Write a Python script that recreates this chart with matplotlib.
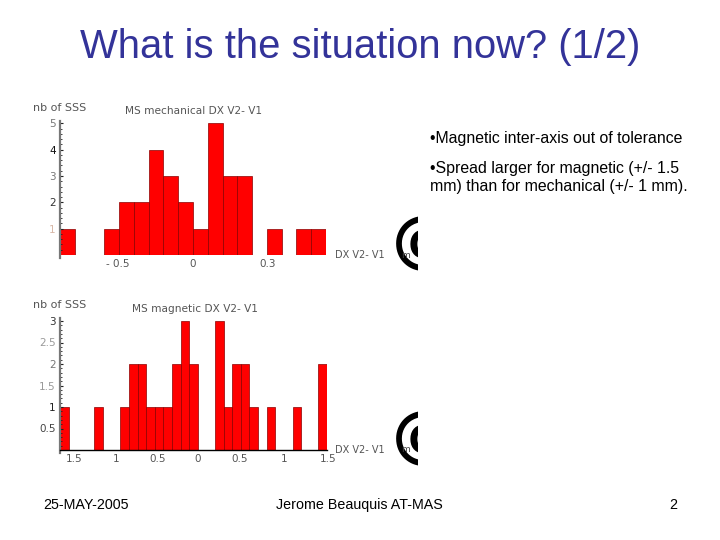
import numpy as np
import matplotlib
matplotlib.use("Agg")
import matplotlib.pyplot as plt
from matplotlib.patches import Rectangle
from matplotlib.transforms import ScaledTranslation

W, H = 720, 540

# comptes par classe
mech_counts = [1, 0, 0, 1, 2, 2, 4, 3, 2, 1, 5, 3, 3, 0, 1, 0, 1, 1]
mag_counts = [1, 0, 0, 0, 1, 0, 0, 1, 2, 2, 1, 1, 1, 2, 3, 2, 0, 0, 3, 1,
              2, 2, 1, 0, 1, 0, 0, 1, 0, 0, 2]
mech_range = (-0.887, 0.887)
mag_range = (-1.5, 1.5)

mech_xticks = [-0.5, 0, 0.5]
mech_xlabels = ["- 0.5", "0", "0.3"]
mech_yticks = [1, 2, 3, 4, 5]
mech_ylabels = ["1", "2", "3", "4", "5"]
mech_ycolors = ["#d8b8a8", "#333333", "#777777", "#111111", "#777777"]
mag_xticks = [-1.5, -1, -0.5, 0, 0.5, 1, 1.5]
mag_xlabels = ["1.5", "1", "0.5", "0", "0.5", "1", "1.5"]
mag_yticks = [0.5, 1, 1.5, 2, 2.5, 3]
mag_ylabels = ["0.5", "1", "1.5", "2", "2.5", "3"]
mag_ycolors = ["#444444", "#222222", "#999999", "#777777", "#999999", "#333333"]

TITLE = "What is the situation now? (1/2)"
BLUE = "#333399"
SANS = "Liberation Sans"

plt.rcParams["font.family"] = [SANS, "DejaVu Sans"]


def px_axes(fig, x0, x1, y_top, y_bottom):
    return fig.add_axes([x0 / W, 1 - y_bottom / H, (x1 - x0) / W, (y_bottom - y_top) / H])


def draw_hist(ax, counts, x_range, ymax, xticks, xlabels, yticks, ylabels, ycolors, minor, base_line):
    edges = np.linspace(x_range[0], x_range[1], len(counts) + 1)
    width = edges[1] - edges[0]
    ax.bar(edges[:-1], counts, width=width, align="edge", color="#ff0000",
           edgecolor="#8a0000", linewidth=0.5)
    ax.set_xlim(*x_range)
    ax.set_ylim(0, ymax)
    ax.patch.set_alpha(0)
    for s in ("top", "right"):
        ax.spines[s].set_visible(False)
    ax.spines["left"].set_color("#777777")
    ax.spines["left"].set_linewidth(1.6)
    ax.spines["left"].set_bounds(-0.02 * ymax, ymax * 1.02)
    ax.spines["bottom"].set_color("black")
    ax.spines["bottom"].set_linewidth(1.0 if base_line else 0)
    ax.set_xticks(xticks)
    ax.set_xticklabels(xlabels, fontsize=7.5, color="#555555", family="DejaVu Sans")
    ax.set_yticks(yticks)
    ax.set_yticklabels(ylabels, fontsize=7.5, family="DejaVu Sans")
    for lab, c in zip(ax.get_yticklabels(), ycolors):
        lab.set_color(c)
    ax.set_yticks(minor, minor=True)
    ax.tick_params(axis="x", length=0, pad=3)
    ax.tick_params(axis="y", which="major", direction="in", length=2.2, width=0.8, color="#222222", pad=3)
    ax.tick_params(axis="y", which="minor", direction="in", length=1.4, width=0.6, color="#222222")


fig = plt.figure(figsize=(W / 100, H / 100), dpi=100, facecolor="white")

ax1 = px_axes(fig, 60, 326, 123.3, 255)
draw_hist(ax1, mech_counts, mech_range, 5, mech_xticks, mech_xlabels, mech_yticks,
          mech_ylabels, mech_ycolors, np.arange(0.2, 5, 0.2), False)

ax2 = px_axes(fig, 60, 327, 321, 450)
draw_hist(ax2, mag_counts, mag_range, 3, mag_xticks, mag_xlabels, mag_yticks,
          mag_ylabels, mag_ycolors, np.arange(0.1, 3, 0.1), True)

# les etiquettes negatives ont perdu leur signe moins et sont decalees
for lab, dx in zip(ax2.get_xticklabels(), [14, 12, 9, 4, 2, 2, 1]):
    lab.set_transform(lab.get_transform() + ScaledTranslation(dx / 100, 0, fig.dpi_scale_trans))

# calque en pixels pour les textes
over = fig.add_axes([0, 0, 1, 1])
over.set_xlim(0, W)
over.set_ylim(H, 0)
over.axis("off")
over.patch.set_alpha(0)

over.text(360, 47, TITLE, fontsize=28.8, color=BLUE, ha="center", va="center")

small = dict(color="#555555", family="DejaVu Sans", va="center")
over.text(33, 108, "nb of SSS", fontsize=8, **small)
over.text(125, 111, "MS mechanical DX V2- V1", fontsize=7.6, **small)
over.text(335, 255, "DX V2- V1", fontsize=7, **small)
over.text(33, 305, "nb of SSS", fontsize=8, **small)
over.text(132, 309, "MS magnetic DX V2- V1", fontsize=7.6, **small)
over.text(335, 450, "DX V2- V1", fontsize=7, **small)

# symbole coupe a droite, comme dans l'image
for y in (243, 438):
    clip = Rectangle((390, y - 35), 28, 70, transform=over.transData)
    t = over.text(392, y, "@", fontsize=45, color="black", ha="left", va="center",
                  family="DejaVu Sans", fontweight="bold")
    t.set_clip_path(clip)
    t.set_clip_on(True)
    over.text(401, y + 12, "m", fontsize=6.5, color="#444444", va="center", family="DejaVu Sans")

body = dict(fontsize=11.4, color="black", va="center")
over.text(430, 139, "•Magnetic inter-axis out of tolerance", **body)
over.text(430, 168, "•Spread larger for magnetic (+/- 1.5", **body)
over.text(430, 187, "mm) than for mechanical (+/- 1 mm).", **body)

foot = dict(fontsize=10.3, color="black", va="center")
over.text(43, 505, "25-MAY-2005", **foot)
over.text(359, 505, "Jerome Beauquis AT-MAS", ha="center", **foot)
over.text(677, 505, "2", ha="right", **foot)

fig.savefig("out.png", dpi=100)
